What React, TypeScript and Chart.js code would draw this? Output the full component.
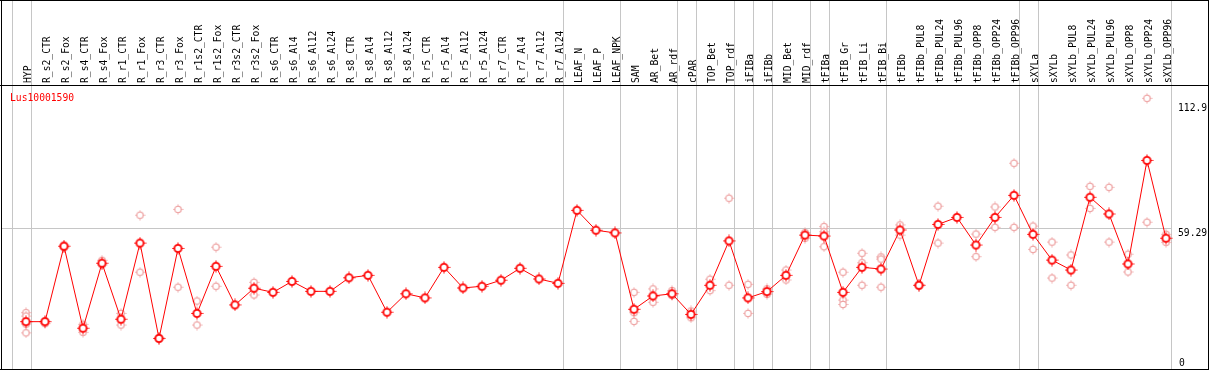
import React, { useEffect, useRef } from "react";
import { Chart, registerables } from "chart.js";

Chart.register(...registerables);

const categories = [
  "HYP", "R_s2_CTR", "R_s2_Fox", "R_s4_CTR", "R_s4_Fox", "R_r1_CTR", "R_r1_Fox", "R_r3_CTR", "R_r3_Fox",
  "R_r1s2_CTR", "R_r1s2_Fox", "R_r3s2_CTR", "R_r3s2_Fox", "R_s6_CTR", "R_s6_Al4", "R_s6_Al12", "R_s6_Al24",
  "R_s8_CTR", "R_s8_Al4", "R_s8_Al12", "R_s8_Al24", "R_r5_CTR", "R_r5_Al4", "R_r5_Al12", "R_r5_Al24",
  "R_r7_CTR", "R_r7_Al4", "R_r7_Al12", "R_r7_Al24", "LEAF_N", "LEAF_P", "LEAF_NPK", "SAM", "AR_Bet", "AR_rdf",
  "cPAR", "TOP_Bet", "TOP_rdf", "iFIBa", "iFIBb", "MID_Bet", "MID_rdf", "tFIBa", "tFIB_Gr", "tFIB_Li", "tFIB_Bi",
  "tFIBb", "tFIBb_PUL8", "tFIBb_PUL24", "tFIBb_PUL96", "tFIBb_OPP8", "tFIBb_OPP24", "tFIBb_OPP96",
  "sXYLa", "sXYLb", "sXYLb_PUL8", "sXYLb_PUL24", "sXYLb_PUL96", "sXYLb_OPP8", "sXYLb_OPP24", "sXYLb_OPP96",
];

const means = [
  20.8, 20.8, 51.9, 18.1, 44.9, 21.8, 53.2, 13.9, 51.0,
  24.2, 43.6, 27.7, 34.6, 32.9, 37.4, 33.3, 33.3,
  38.9, 39.9, 24.7, 32.3, 30.6, 43.2, 34.7, 35.4,
  37.9, 42.8, 38.4, 36.6, 66.7, 58.5, 57.4, 25.9, 31.4, 32.3,
  23.8, 35.8, 54.1, 30.6, 33.2, 39.9, 56.5, 56.1, 32.9, 43.2, 42.5,
  58.6, 35.8, 60.9, 63.8, 52.4, 63.8, 72.9,
  56.8, 46.2, 42.1, 72.1, 65.2, 44.6, 87.3, 55.2,
];

const replicates: number[][] = [
  [24.5, 23.1, 19.8, 16.2], [21.0, 20.0], [52.4, 51.3], [19.7, 16.4], [46.1, 44.2], [24.2, 19.4], [64.7, 41.2], [14.2, 13.6], [67.1, 35.0],
  [29.3, 19.4], [51.5, 35.4], [], [37.0, 31.8], [], [], [], [],
  [], [], [], [], [], [], [], [],
  [], [], [], [], [], [], [], [32.9, 24.5, 20.9], [34.3, 28.8], [33.6, 31.6],
  [25.2, 22.4], [38.3, 33.6], [71.7, 35.8], [36.2, 24.2], [34.3, 32.1], [42.1, 38.0], [57.5, 55.2], [60.0, 57.9, 51.7], [41.2, 29.7, 27.9], [49.0, 45.1, 35.8], [47.5, 46.6, 35.0],
  [60.7, 56.5], [36.1, 35.5], [68.4, 53.2], [], [56.9, 47.6], [68.1, 59.7], [86.1, 59.7],
  [60.2, 50.6], [53.6, 38.8], [48.3, 35.8], [76.6, 67.5], [76.2, 53.6], [48.6, 41.3], [112.9, 61.8], [56.8, 53.5],
];

// index of the last category of each group (group separators)
const groupEnds = [-1, 0, 28, 31, 34, 35, 37, 38, 39, 41, 42, 45, 52, 53, 60];
const geneId = "Lus10001590";
const yTickLabels = ["112.9", "59.29", "0"];
const refLineValue = 59.29;

const FONT = '11px "DejaVu Sans Mono", "Liberation Mono", monospace';
const FONT_SCALE = 0.88;

function makeMarker(size: number, r: number, lw: number, color: string, tick: number) {
  const c = document.createElement("canvas");
  c.width = size;
  c.height = size;
  const g = c.getContext("2d")!;
  const m = size / 2;
  g.fillStyle = "#ffffff";
  g.beginPath();
  g.arc(m, m, r, 0, Math.PI * 2);
  g.fill();
  g.strokeStyle = color;
  g.lineWidth = lw;
  g.beginPath();
  g.arc(m, m, r, 0, Math.PI * 2);
  g.stroke();
  g.fillStyle = color;
  const o = r + lw / 2;
  g.fillRect(Math.floor(m - 0.5), m - o - tick, 1, tick);
  g.fillRect(Math.floor(m - 0.5), m + o, 1, tick);
  g.fillRect(m - o - tick, Math.floor(m - 0.5), tick, 1);
  g.fillRect(m + o, Math.floor(m - 0.5), tick, 1);
  return c;
}

export default function App() {
  const ref = useRef<HTMLCanvasElement | null>(null);

  useEffect(() => {
    document.body.style.margin = "0";
    const canvas = ref.current!;
    const meanMarker = makeMarker(13, 3.6, 1.8, "#ff0000", 1.5);
    const repMarker = makeMarker(11, 3.2, 1.1, "#ec9898", 1.2);

    const meanPts = means.map((v, i) => ({ x: i, y: v }));
    const repPts: { x: number; y: number }[] = [];
    replicates.forEach((arr, i) => arr.forEach((v) => repPts.push({ x: i, y: v })));

    const left = 1, right = 1208, top = 85, bottom = 369;
    const colX0 = 26, colStep = 19;
    const yTopVal = (372.1 - top) / 2.425;
    const yBotVal = (372.1 - bottom) / 2.425;

    const framePlugin = {
      id: "frame",
      beforeDatasetsDraw(chart: any) {
        const { ctx, scales } = chart;
        const xs = scales.x, ys = scales.y;
        ctx.save();
        ctx.fillStyle = "#c6c6c6";
        const gy = Math.round(ys.getPixelForValue(refLineValue));
        const rEnd = Math.round(xs.getPixelForValue(60 + 4.5 / colStep));
        ctx.fillRect(left, gy, rEnd - left, 1);
        for (const g of groupEnds) {
          const px = Math.round(xs.getPixelForValue(g + 4.5 / colStep));
          ctx.fillRect(px, 0, 1, bottom);
        }
        ctx.restore();
      },
      afterDraw(chart: any) {
        const { ctx, scales } = chart;
        const xs = scales.x, ys = scales.y;
        ctx.save();
        // borders
        ctx.fillStyle = "#000000";
        ctx.fillRect(0, 0, 1209, 1);
        ctx.fillRect(0, top, 1209, 1);
        ctx.fillRect(0, bottom, 1209, 1);
        ctx.fillRect(left, 0, 1, 370);
        ctx.fillRect(right, 0, 1, 370);
        // header labels
        ctx.font = FONT;
        ctx.textAlign = "left";
        ctx.textBaseline = "alphabetic";
        ctx.fillStyle = "#000000";
        categories.forEach((cat, i) => {
          const px = xs.getPixelForValue(i) + 4.5;
          ctx.save();
          ctx.translate(px, 83);
          ctx.rotate(-Math.PI / 2);
          ctx.scale(FONT_SCALE, 1);
          ctx.fillText(cat, 0, 0);
          ctx.restore();
        });
        // gene id
        ctx.save();
        ctx.fillStyle = "#ff0000";
        ctx.translate(10, 101);
        ctx.scale(FONT_SCALE, 1);
        ctx.fillText(geneId, 0, 0);
        ctx.restore();
        // right value labels
        const gy = Math.round(ys.getPixelForValue(refLineValue));
        const lblY = [top + 26, gy + 8, bottom - 3];
        const lblX = [1178, 1178, 1179];
        yTickLabels.forEach((t, k) => {
          ctx.save();
          ctx.fillStyle = "#000000";
          ctx.translate(lblX[k], lblY[k]);
          ctx.scale(FONT_SCALE, 1);
          ctx.fillText(t, 0, 0);
          ctx.restore();
        });
        ctx.restore();
      },
    };

    const chart = new Chart(canvas, {
      type: "line",
      data: {
        datasets: [
          {
            label: "mean",
            data: meanPts,
            borderColor: "#ff0000",
            borderWidth: 1,
            pointStyle: meanMarker as any,
            pointRadius: 5,
            tension: 0,
            order: 0,
            clip: false as any,
          },
          {
            label: "replicates",
            data: repPts,
            showLine: false,
            pointStyle: repMarker as any,
            pointRadius: 4,
            order: 1,
            clip: false as any,
          },
        ],
      },
      options: {
        animation: false,
        responsive: false,
        devicePixelRatio: 1,
        events: [],
        layout: { autoPadding: false, padding: { left, right: 1209 - right, top, bottom: 370 - bottom } },
        plugins: { legend: { display: false }, tooltip: { enabled: false } },
        scales: {
          x: {
            type: "linear",
            display: false,
            min: (left - colX0) / colStep,
            max: (right - colX0) / colStep,
          },
          y: {
            type: "linear",
            display: false,
            min: yBotVal,
            max: yTopVal,
          },
        },
      },
      plugins: [framePlugin],
    });
    return () => chart.destroy();
  }, []);

  return <canvas ref={ref} width={1209} height={370} style={{ display: "block", width: 1209, height: 370 }} />;
}
